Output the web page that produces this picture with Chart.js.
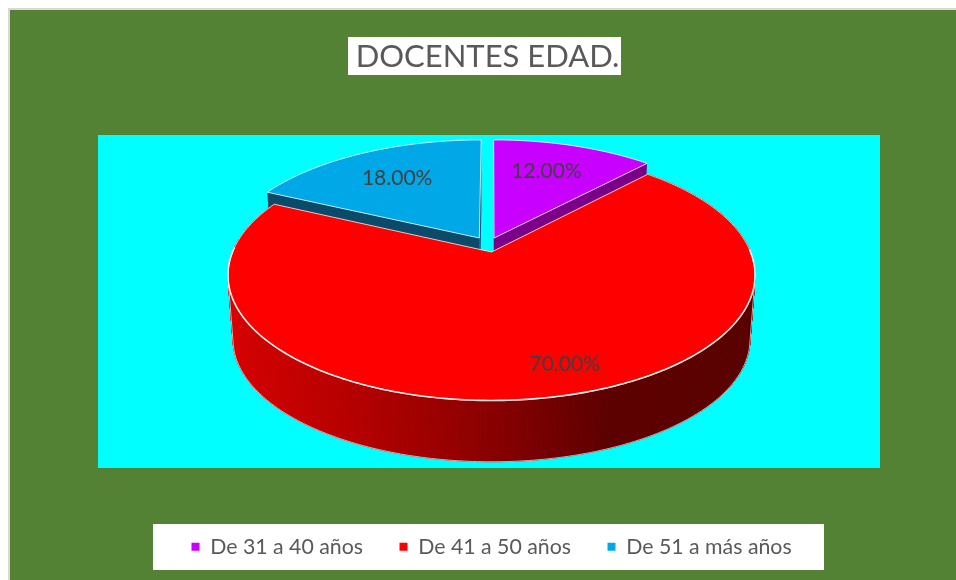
<!DOCTYPE html>
<html lang="es">
<head>
<meta charset="utf-8">
<style>html,body{margin:0;padding:0;background:#fff;overflow:hidden}canvas{display:block}</style>
<script src="https://cdn.jsdelivr.net/npm/chart.js@4"></script>
</head>
<body>
<div style="width:956px;height:580px"><canvas id="c" width="956" height="580"></canvas></div>
<script>
const categories = ["De 31 a 40 años", "De 41 a 50 años", "De 51 a más años"];
const shares = [12, 70, 18];
const chartTitle = "DOCENTES EDAD.";
const sliceColors = ["#c800ff", "#ff0000", "#00a8e8"];
const wallColors = ["#7a0088", "#8a0000", "#0c4a6a"];

// View of the tilted disc, and how far each slice is pulled out of it
const view = { cx: 491.5, cy: 252, R: 259, k: 121, p: 0.185, cyB: 317, RB: 254, kB: 118 };
const explode = [[0.01, 0.118], [0, 0], [-0.048, 0.118]];
const labelSpot = [[0.686, -1.8], [0.826, -6.2], [0.677, 0]];
const drawOrder = [0, 2, 1];
const legendPad = 36.5;

function pt(th, r, ex, low) {
  const u = Math.sin(th) * r + ex[0], v = Math.cos(th) * r + ex[1];
  const s = 1 / (1 + view.p * v);
  return low
    ? [view.cx + view.RB * u * s, view.cyB - view.kB * v * s]
    : [view.cx + view.R * u * s, view.cy - view.k * v * s];
}
function arcPts(a, b, ex, low) {
  const n = Math.max(2, Math.ceil(Math.abs(b - a) / 0.015)), out = [];
  for (let i = 0; i <= n; i++) out.push(pt(a + (b - a) * i / n, 1, ex, low));
  return out;
}
function poly(ctx, pts, close) {
  ctx.beginPath();
  pts.forEach((q, i) => i ? ctx.lineTo(q[0], q[1]) : ctx.moveTo(q[0], q[1]));
  if (close) ctx.closePath();
}

const frame = {
  id: "frame",
  afterLayout(chart) {
    const t = chart.titleBlock, l = chart.legend;
    t.left = 351; t.right = 624; t.top = 57 - t.height / 2; t.bottom = t.top + t.height;
    l.left = 191.5 - legendPad; l.right = 956;
    l.top = 546 - legendPad - 10; l.bottom = l.top + l.height;
  },
  beforeDraw(chart) {
    const c = chart.ctx;
    c.save();
    c.fillStyle = "#ffffff"; c.fillRect(0, 0, 956, 580);
    c.fillStyle = "#d9d9d9"; c.fillRect(8, 8, 948, 572);
    c.fillStyle = "#548235"; c.fillRect(10, 10, 946, 570);
    c.fillStyle = "#00ffff"; c.fillRect(98, 135, 782, 333);
    c.fillStyle = "#ffffff";
    c.fillRect(348, 37, 273, 38);
    c.fillRect(153, 524, 671, 46);
    c.restore();
  },
  beforeDatasetDraw(chart) {
    const c = chart.ctx, arcs = chart.getDatasetMeta(0).data;
    c.save();
    c.lineJoin = "round";
    drawOrder.forEach(i => {
      const p = arcs[i].getProps(["startAngle", "endAngle"], true);
      const a = p.startAngle + Math.PI / 2, b = p.endAngle + Math.PI / 2, ex = explode[i];
      const ap = pt(0, 0, ex, false), apL = pt(0, 0, ex, true);
      const topArc = arcPts(a, b, ex, false), lowArc = arcPts(a, b, ex, true);
      if (i === 1) {
        const g = c.createLinearGradient(232, 0, 751, 0);
        g.addColorStop(0, "#d60000"); g.addColorStop(0.25, "#b30000");
        g.addColorStop(0.5, "#8a0000"); g.addColorStop(0.72, "#5e0000");
        g.addColorStop(1, "#5a0000");
        c.fillStyle = g; c.strokeStyle = g; c.lineWidth = 1;
        for (let s = 0; s < topArc.length - 1; s++) {
          poly(c, [topArc[s], topArc[s + 1], lowArc[s + 1], lowArc[s]], true);
          c.fill(); c.stroke();
        }
        // lower rim, joined up to the top rim at both ends
        const rimA = 1.8, rimB = 4.5;
        c.strokeStyle = "rgba(255,235,235,0.7)"; c.lineWidth = 1;
        poly(c, [pt(rimA, 1, ex, false)].concat(arcPts(rimA, rimB, ex, true), [pt(rimB, 1, ex, false)]), false);
        c.stroke();
      } else {
        c.fillStyle = wallColors[i];
        poly(c, [ap, topArc[0], lowArc[0], apL], true); c.fill();
        poly(c, [ap, topArc[topArc.length - 1], lowArc[lowArc.length - 1], apL], true); c.fill();
      }
      c.fillStyle = sliceColors[i];
      poly(c, [ap].concat(topArc), true); c.fill();
      c.strokeStyle = "rgba(255,255,255,0.75)"; c.lineWidth = 1;
      poly(c, [ap].concat(topArc), true); c.stroke();
      if (i === 1) {
        c.strokeStyle = "#fff0f0"; c.lineWidth = 1.6;
        poly(c, arcPts(1.55, 4.75, ex, false), false); c.stroke();
      }
    });
    c.fillStyle = "#404040";
    c.font = "21px Lato, Carlito, sans-serif";
    c.textAlign = "center"; c.textBaseline = "middle";
    arcs.forEach((el, i) => {
      const p = el.getProps(["startAngle", "endAngle"], true);
      const mid = (p.startAngle + p.endAngle) / 2 + Math.PI / 2 + labelSpot[i][1] * Math.PI / 180;
      const q = pt(mid, labelSpot[i][0], explode[i], false);
      c.fillText(shares[i].toFixed(2) + "%", q[0], q[1]);
    });
    c.restore();
    return false;
  }
};

new Chart(document.getElementById("c"), {
  type: "pie",
  data: {
    labels: categories,
    datasets: [{ data: shares, backgroundColor: sliceColors, borderWidth: 0 }]
  },
  options: {
    responsive: false,
    animation: false,
    events: [],
    plugins: {
      title: {
        display: true, text: chartTitle, color: "#595959", padding: 0,
        font: { size: 31, weight: "normal", family: "Lato, Carlito, sans-serif" }
      },
      legend: {
        display: true, position: "bottom", align: "start",
        labels: {
          color: "#595959", boxWidth: 8, boxHeight: 8, padding: legendPad,
          font: { size: 21.3, family: "Lato, Carlito, sans-serif" }
        }
      },
      tooltip: { enabled: false }
    }
  },
  plugins: [frame]
});
</script>
</body>
</html>
